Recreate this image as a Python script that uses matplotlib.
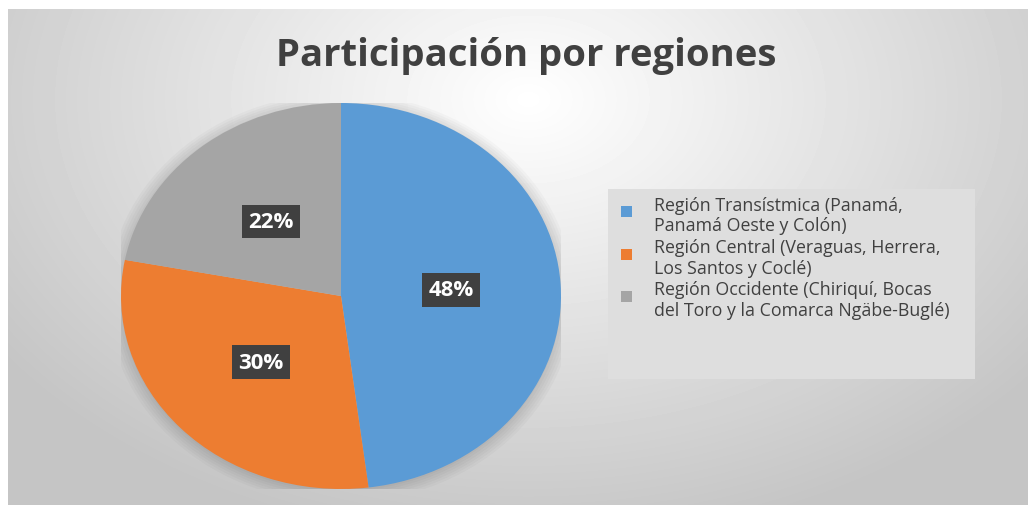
import numpy as np
import matplotlib

matplotlib.use("Agg")
import matplotlib.pyplot as plt
from matplotlib.patches import Rectangle, Patch, Ellipse
from matplotlib.legend_handler import HandlerPatch

regiones = [
    "Región Transístmica (Panamá,\nPanamá Oeste y Colón)",
    "Región Central (Veraguas, Herrera,\nLos Santos y Coclé)",
    "Región Occidente (Chiriquí, Bocas\ndel Toro y la Comarca Ngäbe-Buglé)",
]
participacion = [48, 30, 22]
colores = ["#5B9BD5", "#ED7D31", "#A5A5A5"]
titulo = "Participación por regiones"

plt.rcParams["font.family"] = ["Open Sans", "DejaVu Sans"]


def square_top(legend, orig_handle, xdescent, ydescent, width, height, fontsize):
    # cuadrito alineado con la primera linea de la etiqueta
    s = 0.62 * fontsize
    return Rectangle((-xdescent, -ydescent + height - s - 0.22 * fontsize), s, s)


fig = plt.figure(figsize=(10.28, 5.06), dpi=100)
fig.patch.set_facecolor("white")

# fondo con degradado radial
bg = fig.add_axes([8 / 1028, 0, 1020 / 1028, 496 / 506])
yy, xx = np.mgrid[0:496, 0:1020]
d = np.sqrt(((xx - 520) / 620.0) ** 2 + ((yy - 90) / 430.0) ** 2)
shade = np.clip(1.0 - 0.22 * d, 0.77, 1.0)
bg.imshow(shade, cmap="gray", vmin=0, vmax=1, aspect="auto", interpolation="bilinear")
bg.axis("off")

# recuadro de la leyenda
fig.patches.append(Rectangle((608 / 1028, 1 - 380 / 506), 367 / 1028, 190 / 506,
                             transform=fig.transFigure, facecolor="#dedede",
                             edgecolor="none", zorder=1))

ax = fig.add_axes([121 / 1028, 16 / 506, 440 / 1028, 386 / 506])
# sombra suave detras del pastel
for r in np.linspace(1.0, 1.06, 6):
    ax.add_patch(Ellipse((0, -0.01), 2 * r, 2 * r, facecolor="black",
                         alpha=0.025, edgecolor="none", zorder=0))
wedges, texts, autotexts = ax.pie(
    participacion,
    colors=colores,
    startangle=90,
    counterclock=False,
    autopct="%1.0f%%",
    pctdistance=0.5,
    wedgeprops={"linewidth": 0, "zorder": 2},
    textprops={"color": "white", "fontsize": 16, "fontweight": "bold"},
)
for t in autotexts:
    t.set_bbox({"boxstyle": "square,pad=0.28", "facecolor": "#404040", "edgecolor": "none"})
    t.set_zorder(5)
ax.set_aspect("auto")
ax.set_xlim(-1, 1)
ax.set_ylim(-1, 1)
ax.axis("off")

fig.text(526 / 1028, 1 - 56 / 506, titulo, ha="center", va="center",
         fontsize=27.5, fontweight="bold", color="#404040")

handles = [Patch(facecolor=c, edgecolor="none") for c in colores]
leg = fig.legend(handles, regiones, loc="upper left",
                 bbox_to_anchor=(609 / 1028, 1 - 185 / 506),
                 frameon=False, fontsize=12.8, handlelength=0.8, handleheight=2.0,
                 labelspacing=0.22, handletextpad=1.1, borderpad=0.15,
                 handler_map={Patch: HandlerPatch(patch_func=square_top)})
for t in leg.get_texts():
    t.set_color("#404040")
    t.set_linespacing(1.18)

fig.savefig("out.png", dpi=100)
